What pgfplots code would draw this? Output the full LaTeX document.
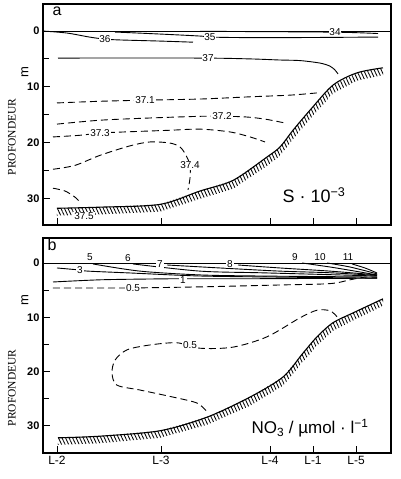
\documentclass[border=0pt]{standalone}
\usepackage{fontspec}
\setmainfont{Liberation Sans}
\newfontfamily\serif{Liberation Serif}
\usepackage{pgfplots}
\pgfplotsset{compat=1.18}
\usetikzlibrary{patterns.meta}

\begin{document}
\begin{tikzpicture}[x=1pt,y=1pt]
\tikzset{
  lab/.style={font=\fontsize{10}{10}\selectfont, fill=white, inner sep=0.8pt},
  hatch/.style={draw=none, pattern={Lines[angle=-65, distance=3.2pt, line width=0.85pt]}},
}
\pgfplotsset{
  panel/.style={
    scale only axis, width=348pt,
    xmin=0, xmax=348, y dir=reverse,
    axis line style={line width=1.3pt},
    clip=false,
    tick align=inside,
    major tick length=7pt, minor tick length=6pt,
    xtick={14,118,227,270,313},
    ytick={0,10,20,30}, minor ytick={5,15,25},
    every tick/.style={line width=0.9pt, black},
    xtick pos=bottom, ytick pos=left,
    /pgf/number format/assume math mode=true,
    yticklabel style={font=\bfseries\fontsize{11}{11}\selectfont},
  },
  cont/.style={black, line width=0.9pt, smooth, tension=0.5, no marks},
  dcont/.style={cont, dash pattern=on 7pt off 4pt},
}

% ---- a : salinity
\begin{axis}[panel, at={(0,0)}, anchor=north west, height=221pt,
  ymin=-4.85, ymax=34.8, xticklabels={}]
\addplot[hatch] coordinates {(14,31.8) (57,31.6) (117,31.1) (157,28.7) (190,26.8) (224,22.6) (237,20.8) (250,17.8) (267,14.2) (290,9.7) (314,7.5) (340,6.6)
  (340,7.9) (314,8.9) (290,11.2) (267,15.8) (250,19.4) (237,22.4) (224,24.2) (190,28.3) (157,30.1) (117,32.4) (57,32.9) (14,33.1)} -- cycle;
\addplot[cont, line width=1.1pt] coordinates {(14,31.8) (57,31.6) (117,31.1) (157,28.7) (190,26.8) (224,22.6) (237,20.8) (250,17.8) (267,14.2) (290,9.7) (314,7.5) (340,6.6)};

\addplot[cont] coordinates {(0,0) (348,0)};
\addplot[cont] coordinates {(0,0) (24,0.36) (47,1.1) (62,1.45) (77,1.6) (117,1.8) (150,2.0)};
\addplot[cont] coordinates {(72,0.18) (117,0.54) (157,0.9) (167,1.08) (197,1.17) (257,1.17) (335,1.08)};
\addplot[cont] coordinates {(157,0.05) (290,0.2) (335,0.45)};
\addplot[cont] coordinates {(15,4.85) (157,4.85) (207,5.0) (237,5.2) (257,5.3) (277,5.75) (287,6.3) (292,7.0) (295,7.7)};

\addplot[dcont] coordinates {(14,12.9) (57,12.6) (102,12.4) (157,12.2) (207,11.8) (247,11.5) (274,11.1)};
\addplot[dcont] coordinates {(14,16.7) (57,16.0) (107,15.6) (157,15.3) (179,15.3) (202,15.4) (222,15.8) (242,16.5)};
\addplot[dcont] coordinates {(10,19.0) (37,18.7) (57,18.3) (82,18.1) (127,17.8) (157,17.6) (187,18.1) (207,19.0) (222,19.9)};
\addplot[dcont] coordinates {(10,24.8) (32,24.1) (57,22.3) (87,20.6) (107,19.9) (127,20.1) (137,20.8) (143,22.3) (147,24.1) (147,26.4) (145,28.5)};
\addplot[dcont] coordinates {(10,28.2) (22,28.7) (32,29.8) (37,30.7)};

\node[lab] at (62,1.45) {36};
\node[lab] at (167,1.08) {35};
\node[lab] at (292,0.2) {34};
\node[lab] at (165,4.85) {37};
\node[lab] at (102,12.4) {37.1};
\node[lab] at (179,15.3) {37.2};
\node[lab] at (57,18.3) {37.3};
\node[lab] at (147,24.1) {37.4};
\node[lab] at (41,33.2) {37.5};

\node[font=\fontsize{16}{16}\selectfont] at (14,-3.5) {a};
\node[font=\fontsize{18}{18}\selectfont] at (271,29.4) {S · 10\textsuperscript{−3}};
\node[rotate=90, font=\fontsize{13}{13}\selectfont] at (-18,7.4) {m};
\node[rotate=90, font=\serif\fontsize{11.5}{11.5}\selectfont] at (-31,19.0) {PROFONDEUR};
\end{axis}

% ---- b : nitrate
\begin{axis}[panel, at={(0,-234pt)}, anchor=north west, height=215pt,
  ymin=-4.6, ymax=35.0,
  xticklabels={L-2,L-3,L-4,L-1,L-5},
  xticklabel style={font=\fontsize{12}{12}\selectfont}]
\addplot[hatch] coordinates {(15,32.2) (57,31.9) (117,30.9) (164,28.4) (207,24.7) (240,21.0) (260,16.6) (274,13.6) (290,11.0) (310,9.2) (340,6.6)
  (340,7.9) (310,10.6) (290,12.5) (274,15.2) (260,18.2) (240,22.6) (207,26.3) (164,29.8) (117,32.2) (57,33.2) (15,33.5)} -- cycle;
\addplot[cont, line width=1.1pt] coordinates {(15,32.2) (57,31.9) (117,30.9) (164,28.4) (207,24.7) (240,21.0) (260,16.6) (274,13.6) (290,11.0) (310,9.2) (340,6.6)};

\addplot[cont] coordinates {(0,0) (348,0)};
\addplot[cont] coordinates {(50,0.18) (97,1.5) (157,2.2) (217,2.4) (277,2.5) (334,2.6)};
\addplot[cont] coordinates {(90,0.18) (157,1.5) (217,1.8) (277,2.1) (334,2.4)};
\addplot[cont] coordinates {(124,0.37) (177,0.92) (237,1.5) (287,1.8) (334,2.3)};
\addplot[cont] coordinates {(195,0.37) (237,0.92) (287,1.5) (334,2.2)};
\addplot[cont] coordinates {(259,0) (287,0.74) (312,1.5) (334,2.2)};
\addplot[cont] coordinates {(284,0) (307,0.74) (334,2.0)};
\addplot[cont] coordinates {(309,0.18) (322,0.92) (334,1.84)};
\addplot[cont] coordinates {(14,0.92) (37,1.3) (45,1.5) (87,1.84) (157,2.4) (237,2.6) (334,2.8)};
\addplot[cont] coordinates {(10,3.5) (57,3.1) (107,2.95) (140,2.9) (207,2.9) (277,2.85) (334,2.8)};
\addplot[dcont] coordinates {(10,4.6) (57,4.6) (90,4.6) (157,4.4) (237,4.05) (287,3.8) (307,3.1) (322,2.6) (334,2.6)};
\addplot[dcont] coordinates {(294,9.9) (287,8.8) (274,8.7) (257,10.1) (224,13.6) (190,15.5) (157,15.7) (134,14.7) (107,15.1) (84,16.0) (72,17.9) (69,20.3) (74,22.5) (97,23.4) (130,24.7) (154,25.8) (164,27.4)};

\node[lab] at (47,-1.1) {5};
\node[lab] at (85,-0.9) {6};
\node[lab] at (117,0.2) {7};
\node[lab] at (187,0.2) {8};
\node[lab] at (252,-1.1) {9};
\node[lab] at (277,-1.1) {10};
\node[lab] at (305,-1.1) {11};
\node[lab] at (37,1.3) {3};
\node[lab] at (140,3.1) {1};
\node[lab] at (90,4.6) {0.5};
\node[lab] at (147,15.1) {0.5};

\node[font=\fontsize{16}{16}\selectfont] at (9,-3.3) {b};
\node[font=\fontsize{17}{17}\selectfont] at (267,30.4) {NO\textsubscript{3} / µmol · l\textsuperscript{−1}};
\node[rotate=90, font=\fontsize{13}{13}\selectfont] at (-18,6.8) {m};
\node[rotate=90, font=\serif\fontsize{11.5}{11.5}\selectfont] at (-31,23.0) {PROFONDEUR};
\end{axis}

\path (-43pt,4pt) rectangle (357pt,-475pt);
\end{tikzpicture}
\end{document}
